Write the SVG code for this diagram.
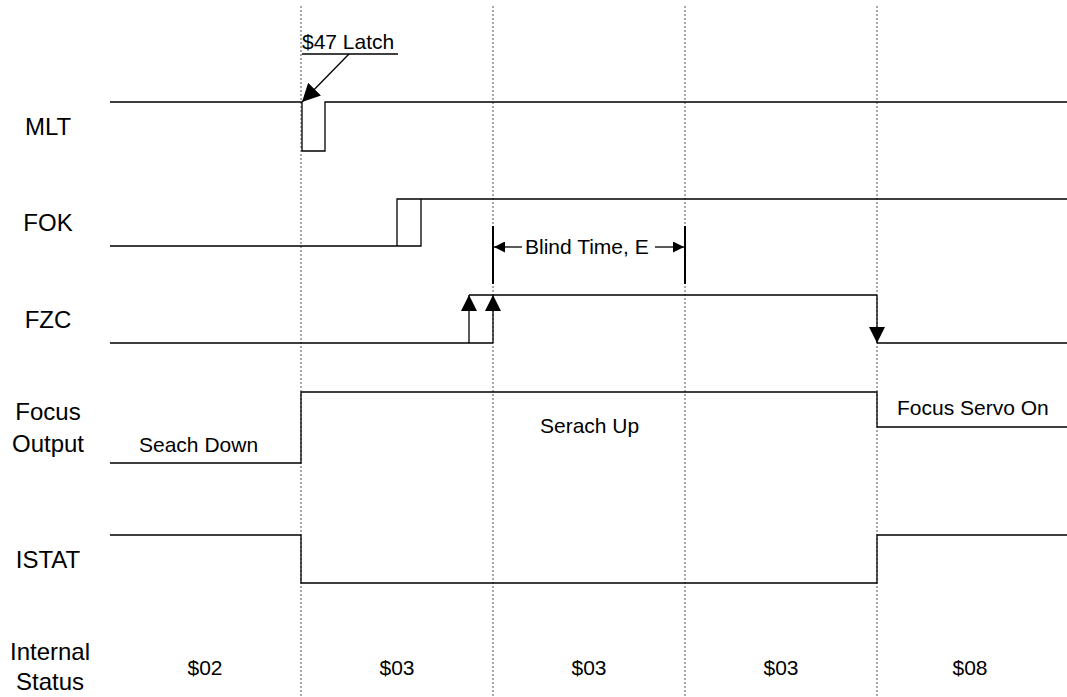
<svg xmlns="http://www.w3.org/2000/svg" width="1067" height="697" viewBox="0 0 1067 697">
<style>
.lbl{font-family:"Liberation Sans",Arial,sans-serif;font-size:24px;fill:#000;text-anchor:middle}
.txt{font-family:"Liberation Sans",Arial,sans-serif;font-size:21px;fill:#000}
.mid{text-anchor:middle}
.wave{fill:none;stroke:#000;stroke-width:1.3}
.grid{stroke:#555;stroke-width:1;stroke-dasharray:2 2}
.bar{stroke:#000;stroke-width:2}
</style>
<defs>
<marker id="tri" viewBox="0 0 10 10" refX="10" refY="5" markerWidth="16" markerHeight="16" markerUnits="userSpaceOnUse" orient="auto">
<path d="M0,0 L10,5 L0,10 z" fill="#000"/>
</marker>
<marker id="tri-l" viewBox="0 0 10 10" refX="10" refY="5" markerWidth="18" markerHeight="18" markerUnits="userSpaceOnUse" orient="auto">
<path d="M0,0 L10,5 L0,10 z" fill="#000"/>
</marker>
<marker id="tri-s" viewBox="0 0 10 10" refX="10" refY="5" markerWidth="11" markerHeight="11" markerUnits="userSpaceOnUse" orient="auto">
<path d="M0,0 L10,5 L0,10 z" fill="#000"/>
</marker>
</defs>
<rect width="1067" height="697" fill="#fff"/>
<g id="grid">
<line class="grid" x1="301" y1="6" x2="301" y2="697"/>
<line class="grid" x1="493" y1="6" x2="493" y2="697"/>
<line class="grid" x1="685" y1="6" x2="685" y2="697"/>
<line class="grid" x1="877" y1="6" x2="877" y2="697"/>
</g>
<g id="labels">
<text class="lbl" x="48" y="135">MLT</text>
<text class="lbl" x="48" y="231">FOK</text>
<text class="lbl" x="48" y="328">FZC</text>
<text class="lbl" x="48" y="420">Focus</text>
<text class="lbl" x="48" y="452">Output</text>
<text class="lbl" x="48" y="568">ISTAT</text>
<text class="lbl" x="50" y="660">Internal</text>
<text class="lbl" x="50" y="690">Status</text>
</g>
<g id="mlt">
<path class="wave" d="M110,102 H302 V151 H325 V102 H1067"/>
</g>
<g id="fok">
<path class="wave" d="M110,246 H421 V199 M397,246 V199 H1067"/>
</g>
<g id="fzc">
<path class="wave" d="M110,343 H493 M469,295 H877 M877,343 H1067"/>
<line class="wave" x1="469" y1="343" x2="469" y2="295" marker-end="url(#tri)"/>
<line class="wave" x1="493" y1="343" x2="493" y2="295" marker-end="url(#tri)"/>
<line class="wave" x1="877" y1="295" x2="877" y2="343" marker-end="url(#tri)"/>
</g>
<g id="focus-output">
<path class="wave" d="M110,463 H301 V392 H877 V427 H1067"/>
<text class="txt" x="139" y="452">Seach Down</text>
<text class="txt" x="540" y="433">Serach Up</text>
<text class="txt" x="897" y="415">Focus Servo On</text>
</g>
<g id="istat">
<path class="wave" d="M110,535 H301 V583 H877 V535 H1067"/>
</g>
<g id="internal-status">
<text class="txt mid" x="205" y="675">$02</text>
<text class="txt mid" x="397" y="675">$03</text>
<text class="txt mid" x="589" y="675">$03</text>
<text class="txt mid" x="781" y="675">$03</text>
<text class="txt mid" x="970" y="675">$08</text>
</g>
<g id="latch-note">
<text class="txt" x="302" y="49">$47 Latch</text>
<line class="wave" x1="302" y1="54" x2="398" y2="54"/>
</g>
<g id="blind-time">
<line class="bar" x1="493" y1="226" x2="493" y2="284"/>
<line class="bar" x1="685" y1="226" x2="685" y2="284"/>
<text class="txt" x="525" y="254">Blind Time, E</text>
</g>
<g id="connectors">
<line class="wave" x1="349" y1="54" x2="302" y2="102" marker-end="url(#tri-l)"/>
<line class="wave" x1="522" y1="247" x2="494" y2="247" marker-end="url(#tri-s)"/>
<line class="wave" x1="655" y1="247" x2="684" y2="247" marker-end="url(#tri-s)"/>
</g>
</svg>
